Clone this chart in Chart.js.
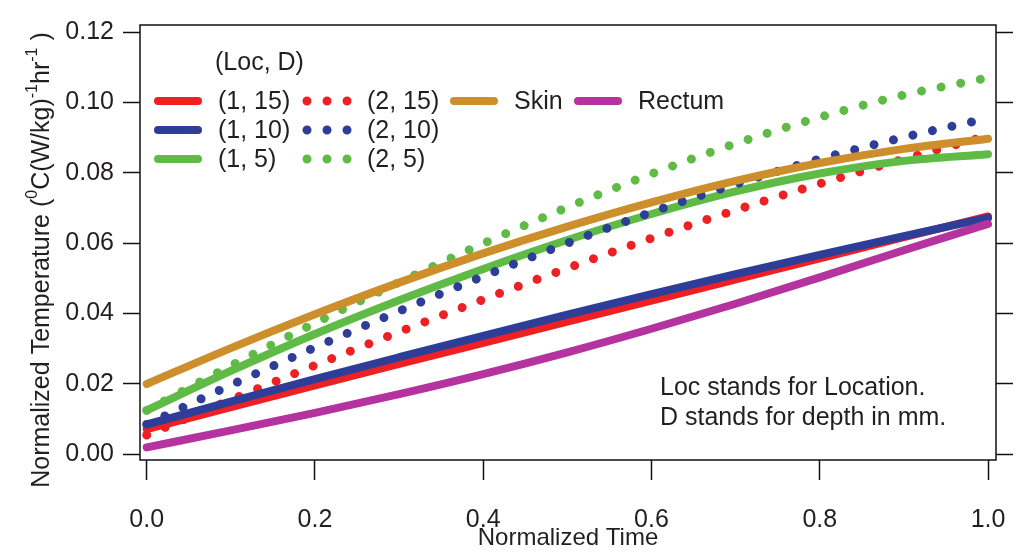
<!DOCTYPE html>
<html>
<head>
<meta charset="utf-8">
<script src="https://cdn.jsdelivr.net/npm/chart.js@4"></script>
<style>
  html, body { margin: 0; padding: 0; background: #fff; }
  #wrap { width: 1017px; height: 553px; }
</style>
</head>
<body>
<div id="wrap"><canvas id="tempChart"></canvas></div>
<script>
// normalized time (x) and temperature rise per location / depth
const times = [0, 0.1, 0.2, 0.3, 0.4, 0.5, 0.6, 0.7, 0.8, 0.9, 1.0]
const loc1Depth15 = [0.0072, 0.0134, 0.0196, 0.0257, 0.0317, 0.0377, 0.0437, 0.0497, 0.0557, 0.0617, 0.0676]
const loc1Depth10 = [0.0085, 0.0150, 0.0214, 0.0276, 0.0337, 0.0397, 0.0455, 0.0512, 0.0567, 0.0620, 0.0672]
const loc1Depth5 = [0.0125, 0.0237, 0.0342, 0.0438, 0.0527, 0.0609, 0.0683, 0.0747, 0.0798, 0.0834, 0.0853]
const loc2Depth15 = [0.0055, 0.0155, 0.0253, 0.0348, 0.0440, 0.0529, 0.0614, 0.0694, 0.0769, 0.0839, 0.0905]
const loc2Depth10 = [0.0085, 0.0197, 0.0304, 0.0407, 0.0506, 0.0600, 0.0688, 0.0768, 0.0839, 0.0901, 0.0955]
const loc2Depth5 = [0.0125, 0.0252, 0.0373, 0.0489, 0.0599, 0.0702, 0.0797, 0.0883, 0.0958, 0.1021, 0.1070]
const skin = [0.0200, 0.0302, 0.0398, 0.0488, 0.0571, 0.0647, 0.0716, 0.0777, 0.0828, 0.0868, 0.0897]
const rectum = [0.0020, 0.0068, 0.0118, 0.0171, 0.0228, 0.0290, 0.0357, 0.0428, 0.0503, 0.0580, 0.0655]

const xTicks = [0, 0.2, 0.4, 0.6, 0.8, 1.0]
const yTicks = [0, 0.02, 0.04, 0.06, 0.08, 0.10, 0.12]

const RED = "#ed2024"
const BLUE = "#2e3d98"
const GREEN = "#5fbb46"
const GOLD = "#cc8f2c"
const MAGENTA = "#b5339f"
const INK = "#231f20"
const FONT = "'Liberation Sans', Arial, sans-serif"

const toPoints = (vals) => times.map((t, i) => ({ x: t, y: vals[i] }))

const solid = (label, vals, color) => ({
  label,
  data: toPoints(vals),
  borderColor: color,
  borderWidth: 8,
  borderCapStyle: "round",
  pointRadius: 0,
  cubicInterpolationMode: "monotone",
})

const dotted = (label, vals, color) => ({
  ...solid(label, vals, color),
  borderWidth: 9,
  borderDash: [0.01, 20],
})

// first dataset is drawn on top
const datasets = [
  solid("Skin", skin, GOLD),
  solid("Rectum", rectum, MAGENTA),
  dotted("(2, 5)", loc2Depth5, GREEN),
  solid("(1, 10)", loc1Depth10, BLUE),
  solid("(1, 15)", loc1Depth15, RED),
  dotted("(2, 10)", loc2Depth10, BLUE),
  solid("(1, 5)", loc1Depth5, GREEN),
  dotted("(2, 15)", loc2Depth15, RED),
]

// legend slots: sample start x, row y
const legendSlots = [
  { label: "(1, 15)", x: 154, y: 101 },
  { label: "(1, 10)", x: 154, y: 130 },
  { label: "(1, 5)", x: 154, y: 159 },
  { label: "(2, 15)", x: 303, y: 101 },
  { label: "(2, 10)", x: 303, y: 130 },
  { label: "(2, 5)", x: 303, y: 159 },
  { label: "Skin", x: 450, y: 101 },
  { label: "Rectum", x: 574, y: 101 },
]

const decor = {
  id: "decor",
  afterDraw(chart) {
    const ctx = chart.ctx
    const { left, right, top, bottom } = chart.chartArea
    ctx.save()

    // frame
    ctx.strokeStyle = "#111"
    ctx.lineWidth = 1.5
    ctx.setLineDash([])
    ctx.strokeRect(left, top, right - left, bottom - top)

    // legend
    ctx.fillStyle = INK
    ctx.font = "25px " + FONT
    ctx.textBaseline = "middle"
    ctx.textAlign = "left"
    ctx.fillText("(Loc, D)", 215, 63)
    legendSlots.forEach((slot) => {
      const ds = chart.data.datasets.find((d) => d.label === slot.label)
      ctx.strokeStyle = ds.borderColor
      ctx.lineWidth = ds.borderWidth
      ctx.lineCap = "round"
      ctx.beginPath()
      ctx.setLineDash(ds.borderDash || [])
      ctx.moveTo(slot.x + 4, slot.y)
      ctx.lineTo(slot.x + (ds.borderDash ? 45 : 44), slot.y)
      ctx.stroke()
      ctx.setLineDash([])
      ctx.fillText(slot.label, slot.x + 64, slot.y + 1)
    })

    // note
    ctx.fillText("Loc stands for Location.", 660, 388)
    ctx.fillText("D stands for depth in mm.", 660, 418)

    // y axis title with superscripts
    const parts = [
      ["Normalized Temperature (", false],
      ["0", true],
      ["C(W/kg)", false],
      ["-1", true],
      ["hr", false],
      ["-1", true],
      [" )", false],
    ]
    const big = "25px " + FONT
    const small = "16px " + FONT
    let total = 0
    parts.forEach(([t, sup]) => {
      ctx.font = sup ? small : big
      total += ctx.measureText(t).width
    })
    ctx.translate(40, 260)
    ctx.rotate(-Math.PI / 2)
    ctx.textBaseline = "alphabetic"
    let u = -total / 2
    parts.forEach(([t, sup]) => {
      ctx.font = sup ? small : big
      ctx.fillText(t, u, sup ? -3 : 9)
      u += ctx.measureText(t).width
    })
    ctx.restore()
  },
}

const tickGrid = {
  drawOnChartArea: false,
  drawTicks: true,
  tickLength: 17,
  tickWidth: 1.5,
  color: "#111",
}

// keep the plot box fixed: no extra room for overhanging tick labels
const noOverhang = (scale) => {
  scale.paddingLeft = 0
  scale.paddingRight = 0
  scale.paddingTop = 0
  scale.paddingBottom = 0
}

new Chart(document.getElementById("tempChart"), {
  type: "line",
  data: { datasets },
  options: {
    responsive: true,
    maintainAspectRatio: false,
    animation: false,
    devicePixelRatio: 1,
    layout: { padding: { top: 25, left: 0, right: 0, bottom: 0 } },
    plugins: {
      legend: { display: false },
      tooltip: { enabled: false },
    },
    scales: {
      x: {
        type: "linear",
        min: -0.008,
        max: 1.0095,
        afterBuildTicks: (scale) => { scale.ticks = xTicks.map((v) => ({ value: v })) },
        afterFit: (scale) => { scale.height = 93; noOverhang(scale) },
        grid: { ...tickGrid, tickLength: 20 },
        border: { display: false },
        ticks: {
          color: INK,
          font: { family: FONT, size: 25 },
          padding: 25,
          maxRotation: 0,
          callback: (v) => Number(v).toFixed(1),
        },
        title: {
          display: true,
          text: "Normalized Time",
          color: INK,
          font: { family: FONT, size: 24, lineHeight: 1.2 },
          padding: { top: 0, bottom: 0 },
        },
      },
      y: {
        min: -0.0016,
        max: 0.122,
        afterBuildTicks: (scale) => { scale.ticks = yTicks.map((v) => ({ value: v })) },
        afterFit: (scale) => { scale.width = 140; noOverhang(scale) },
        grid: tickGrid,
        border: { display: false },
        ticks: {
          color: INK,
          font: { family: FONT, size: 25 },
          padding: 9,
          callback: (v) => Number(v).toFixed(2),
        },
      },
      yRight: {
        position: "right",
        min: -0.0016,
        max: 0.122,
        afterBuildTicks: (scale) => { scale.ticks = yTicks.map((v) => ({ value: v })) },
        afterFit: (scale) => { scale.width = 21; noOverhang(scale) },
        grid: tickGrid,
        border: { display: false },
        ticks: { display: false },
      },
    },
  },
  plugins: [decor],
})
</script>
</body>
</html>
